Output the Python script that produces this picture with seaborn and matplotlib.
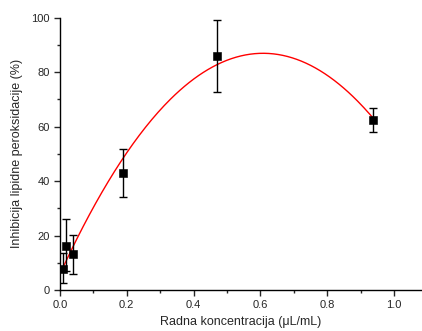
import numpy as np
import pandas as pd
import matplotlib
matplotlib.use('Agg')
import matplotlib.pyplot as plt
from matplotlib.ticker import MultipleLocator
import seaborn as sns

conc = [0.009, 0.019, 0.038, 0.188, 0.469, 0.938]
inhib = [7.7, 16.3, 13.1, 43.1, 86.0, 62.5]
err_low = [2.5, 7.0, 5.9, 34.2, 72.8, 58.0]
err_high = [13.5, 26.0, 20.3, 51.8, 99.3, 66.8]

df = pd.DataFrame({'conc': conc, 'inhib': inhib})

# 2nd order polynomial fit through the points (red line)
coef = np.polyfit(conc, inhib, 2)
xfit = np.linspace(min(conc), max(conc), 200)
fit = pd.DataFrame({'conc': xfit, 'inhib': np.polyval(coef, xfit)})

sns.set_style('ticks')
plt.rcParams['font.family'] = ['Liberation Sans', 'DejaVu Sans']

fig = plt.figure(figsize=(4.22, 3.31), dpi=100)
ax = fig.add_axes([0.142, 0.124, 0.858, 0.822])

sns.lineplot(data=fit, x='conc', y='inhib', color='red', lw=1, ax=ax)
yerr = [np.array(inhib) - np.array(err_low), np.array(err_high) - np.array(inhib)]
ax.errorbar(conc, inhib, yerr=yerr, fmt='none', ecolor='black', elinewidth=1,
            capsize=3, capthick=1, zorder=3)
sns.scatterplot(data=df, x='conc', y='inhib', marker='s', s=28, color='black',
                edgecolor='black', ax=ax, zorder=4)

ax.set_xlim(0, 1.084)
ax.set_ylim(0, 100)
ax.xaxis.set_major_locator(MultipleLocator(0.2))
ax.xaxis.set_minor_locator(MultipleLocator(0.1))
ax.yaxis.set_major_locator(MultipleLocator(20))
ax.yaxis.set_minor_locator(MultipleLocator(10))
ax.tick_params(which='major', length=4, width=1, labelsize=8, direction='out')
ax.tick_params(which='minor', length=2.5, width=1, direction='out')
ax.set_xlabel('Radna koncentracija (μL/mL)', fontsize=9)
ax.set_ylabel('Inhibicija lipidne peroksidacije (%)', fontsize=9, labelpad=6)
sns.despine(ax=ax)
for s in ['left', 'bottom']:
    ax.spines[s].set_linewidth(1)
    ax.spines[s].set_color('black')

fig.savefig('out.png', dpi=100)
